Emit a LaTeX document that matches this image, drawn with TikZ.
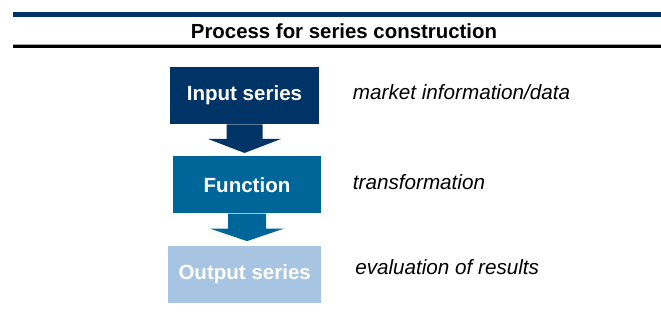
\documentclass[tikz,border=0pt]{standalone}
\usepackage{fontspec}
\setmainfont{Liberation Sans}
\usetikzlibrary{calc}
\definecolor{navy}{RGB}{0,51,102}
\definecolor{teal}{RGB}{0,102,153}
\definecolor{light}{RGB}{167,196,226}
\definecolor{rulegray}{RGB}{165,165,165}
\begin{document}
\begin{tikzpicture}[x=0.75pt,y=-0.75pt,
  stepbox/.style={draw=none,inner sep=0pt,text=white,font=\fontsize{15.4}{18}\selectfont\bfseries,align=center},
  note/.style={inner sep=0pt,anchor=base west,font=\fontsize{15.5}{18}\selectfont\itshape}]
\useasboundingbox (0,0) rectangle (661,329);
% rules
\fill[navy] (13,12) rectangle (661,17);
\fill[rulegray] (13,43.5) rectangle (661,44.6);
\fill[black] (13,44.6) rectangle (661,48);
\node[inner sep=0pt,anchor=base,font=\fontsize{15.3}{18}\selectfont\bfseries] (title) at (344,38.7) {Process for series construction};
% boxes
\node[stepbox,fill=navy,minimum width=0.75*149pt,minimum height=0.75*57pt] (in) at (244.5,95.5) {Input series};
\node[stepbox,fill=teal,minimum width=0.75*148.6pt,minimum height=0.75*57.3pt] (fn) at (247,184.7) {Function};
\node[stepbox,fill=light,minimum width=0.75*153.3pt,minimum height=0.75*56.7pt] (out) at (244.7,274.3) {Output series};
% arrows
\fill[navy] ($(in.south)+(-18,0)$) -- ++(0,14.5) -- ++(-19,0) -- ($(in.south)+(0,28.7)$)
  -- ($(in.south)+(37,14.5)$) -- ++(-19,0) -- ($(in.south)+(18,0)$) -- cycle;
\fill[teal] ($(fn.south)+(-19,0)$) -- ++(0,15) -- ++(-18,0) -- ($(fn.south)+(0,27.5)$)
  -- ($(fn.south)+(37,15)$) -- ++(-18,0) -- ($(fn.south)+(19,0)$) -- cycle;
% notes
\node[note] (n1) at (352.7,99.3) {market information/data};
\node[note] (n2) at (352.7,189.3) {transformation};
\node[note] (n3) at (355,274.3) {evaluation of results};
\end{tikzpicture}
\end{document}
